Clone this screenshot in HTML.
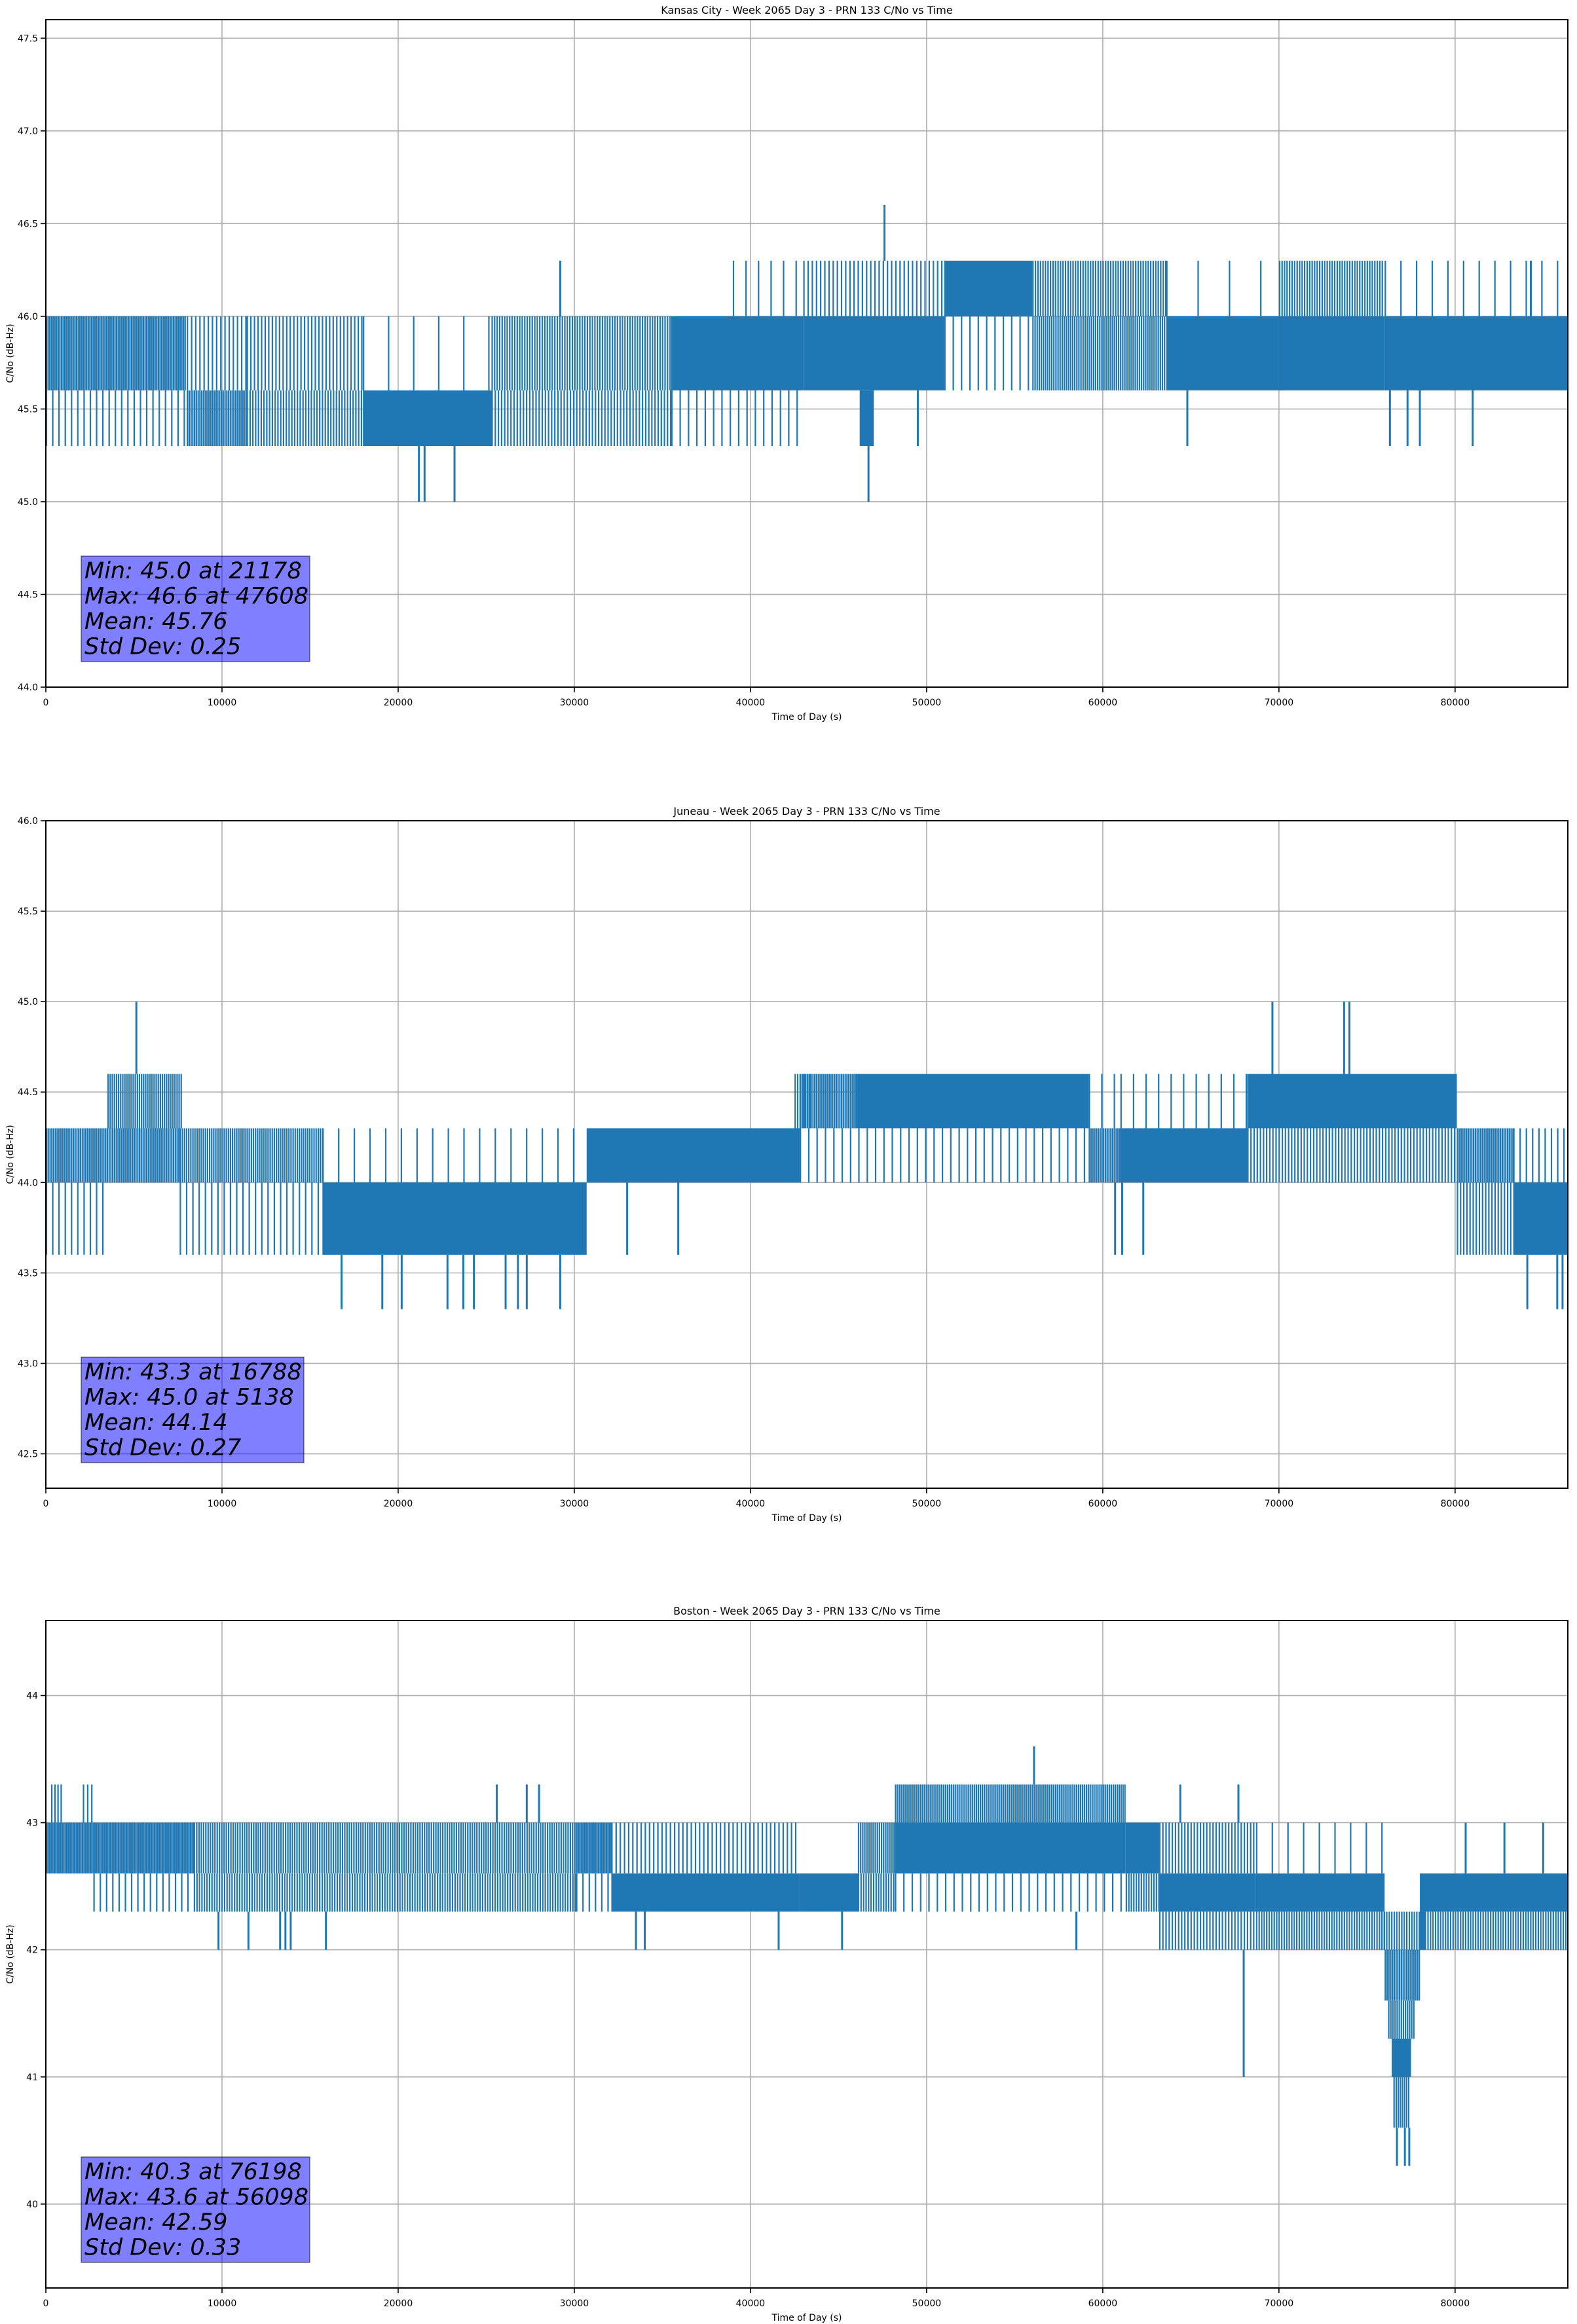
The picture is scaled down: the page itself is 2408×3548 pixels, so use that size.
<!DOCTYPE html>
<html><head><meta charset="utf-8"><title>C/No vs Time</title>
<style>
html,body{margin:0;padding:0;background:#fff;}
svg{display:block;font-family:"DejaVu Sans","Liberation Sans",sans-serif;}
</style></head>
<body>
<svg id="fig" width="2408" height="3548" viewBox="0 0 2408 3548" xmlns="http://www.w3.org/2000/svg"></svg>
<script>
// ---- data ----
const xTicks = [0,10000,20000,30000,40000,50000,60000,70000,80000];
const titles = ["Kansas City - Week 2065 Day 3 - PRN 133 C/No vs Time","Juneau - Week 2065 Day 3 - PRN 133 C/No vs Time","Boston - Week 2065 Day 3 - PRN 133 C/No vs Time"];
const yTicks1 = [44.0,44.5,45.0,45.5,46.0,46.5,47.0,47.5];
const yTicks2 = [42.5,43.0,43.5,44.0,44.5,45.0,45.5,46.0];
const yTicks3 = [40,41,42,43,44];
const yDomain1 = [44.0,47.6];
const yDomain2 = [42.31,46.0];
const yDomain3 = [39.34,44.59];
// blocks: [tStart, tEnd, low, high, density]
const blocks1 = [
[0,8000,45.6,46.0,0.75],[0,8000,45.3,45.6,0.2],
[8000,11400,45.6,46.0,0.3],[8000,11400,45.3,45.6,0.7],
[11400,18000,45.6,46.0,0.35],[11400,18000,45.3,45.6,0.45],
[18000,25300,45.3,45.6,1.0],[18000,25300,45.6,46.0,0.05],
[25300,35500,45.6,46.0,0.5],[25300,35500,45.3,45.6,0.4],
[35500,43000,45.6,46.0,0.9],[35500,43000,45.3,45.6,0.15],[39000,43000,46.0,46.3,0.1],
[43000,51000,45.6,46.0,0.85],[43000,51000,46.0,46.3,0.3],[46200,47000,45.3,45.6,0.9],
[51000,56000,46.0,46.3,0.85],[51000,56000,45.6,46.0,0.15],
[56000,63600,46.0,46.3,0.5],[56000,63600,45.6,46.0,0.6],
[63600,70000,45.6,46.0,0.95],[63600,70000,46.0,46.3,0.04],
[70000,76000,45.6,46.0,0.9],[70000,76000,46.0,46.3,0.5],
[76000,86400,45.6,46.0,0.95],[76000,86400,46.0,46.3,0.08]
];
// spikes: [t, from, to]
const spikes1 = [[21178,45.3,45.0],[21500,45.3,45.0],[23200,45.3,45.0],[46700,45.3,45.0],[47608,46.3,46.6],[29200,46.0,46.3],[64800,45.6,45.3],[76300,45.6,45.3],[77300,45.6,45.3],[78000,45.6,45.3],[81000,45.6,45.3],[84300,46.0,46.3],[49500,45.6,45.3]];
const blocks2 = [
[0,7600,44.0,44.3,0.7],[3500,7750,44.3,44.6,0.6],[0,3400,43.6,44.0,0.2],
[7600,15700,44.0,44.3,0.6],[7600,15700,43.6,44.0,0.2],
[15700,30700,43.6,44.0,0.95],[15700,30700,44.0,44.3,0.08],
[30700,42800,44.0,44.3,0.85],[42500,43500,44.3,44.6,0.5],
[42800,46000,44.3,44.6,0.7],[46000,59200,44.3,44.6,0.9],[42800,59200,44.0,44.3,0.15],
[59200,61000,44.0,44.3,0.7],[59200,61000,44.3,44.6,0.1],
[61000,68200,44.0,44.3,0.9],[61000,68200,44.3,44.6,0.1],
[68200,80100,44.3,44.6,0.85],[68200,80100,44.0,44.3,0.4],
[80100,83300,44.0,44.3,0.7],[80100,83300,43.6,44.0,0.4],
[83300,86400,43.6,44.0,0.95],[83300,86400,44.0,44.3,0.2]
];
const spikes2 = [[5138,44.6,45.0],[69630,44.6,45.0],[73700,44.6,45.0],[74000,44.6,45.0],[16788,43.6,43.3],[19100,43.6,43.3],[20200,43.6,43.3],[22800,43.6,43.3],[23700,43.6,43.3],[24300,43.6,43.3],[26100,43.6,43.3],[26800,43.6,43.3],[27300,43.6,43.3],[29200,43.6,43.3],[84100,43.6,43.3],[85800,43.6,43.3],[86100,43.6,43.3],[60700,44.0,43.6],[61100,44.0,43.6],[62300,44.0,43.6],[33000,44.0,43.6],[35900,44.0,43.6]];
const blocks3 = [
[0,8400,42.6,43.0,0.8],[300,900,43.0,43.3,0.4],[2100,2700,43.0,43.3,0.3],[2700,8400,42.3,42.6,0.2],
[8400,30100,42.6,43.0,0.55],[8400,30100,42.3,42.6,0.5],
[30100,32100,42.6,43.0,0.8],[30100,32100,42.3,42.6,0.2],
[32100,42800,42.3,42.6,0.85],[32100,42800,42.6,43.0,0.3],
[42800,46100,42.3,42.6,0.95],
[46100,48200,42.6,43.0,0.6],[46100,48200,42.3,42.6,0.5],
[48200,61300,42.6,43.0,0.9],[48200,61300,43.0,43.3,0.65],[48200,61300,42.3,42.6,0.15],
[61300,63200,42.6,43.0,0.9],[61300,63200,42.3,42.6,0.5],
[63200,68700,42.6,43.0,0.4],[63200,68700,42.3,42.6,0.85],[63200,68700,42.0,42.3,0.4],
[68700,76000,42.3,42.6,0.95],[68700,76000,42.0,42.3,0.5],[68700,76000,42.6,43.0,0.08],
[75800,78300,42.0,42.3,0.5],
[76000,78000,41.6,42.0,0.7],[76200,77700,41.3,41.6,0.6],[76400,77500,41.0,41.3,0.9],[76500,77400,40.6,41.0,0.6],
[78000,86400,42.3,42.6,0.85],[78000,86400,42.0,42.3,0.5]
];
const spikes3 = [[9800,42.3,42.0],[11500,42.3,42.0],[13300,42.3,42.0],[13600,42.3,42.0],[13900,42.3,42.0],[15900,42.3,42.0],[25600,43.0,43.3],[27300,43.0,43.3],[28000,43.0,43.3],[33500,42.3,42.0],[34000,42.3,42.0],[41600,42.3,42.0],[45200,42.3,42.0],[56098,43.3,43.6],[58500,42.3,42.0],[64400,43.0,43.3],[67700,43.0,43.3],[68000,42.0,41.0],[76700,40.6,40.3],[77150,40.6,40.3],[77400,40.6,40.3],[80600,42.6,43.0],[82800,42.6,43.0],[85000,42.6,43.0]];
const stats1 = ["Min: 45.0 at 21178","Max: 46.6 at 47608","Mean: 45.76","Std Dev: 0.25"];
const stats2 = ["Min: 43.3 at 16788","Max: 45.0 at 5138","Mean: 44.14","Std Dev: 0.27"];
const stats3 = ["Min: 40.3 at 76198","Max: 43.6 at 56098","Mean: 42.59","Std Dev: 0.33"];
const xMax = 86400;

// ---- drawing ----
const NS = "http://www.w3.org/2000/svg";
const fig = document.getElementById('fig');
function mk(tag, attrs, parent){ const e=document.createElementNS(NS,tag); for(const k in attrs) e.setAttribute(k,attrs[k]); (parent||fig).appendChild(e); return e; }
const L=70, R=2394, W=R-L, H=1019;
const panels = [
 {top:30, yTicks:yTicks1, dom:yDomain1, blocks:blocks1, spikes:spikes1, stats:stats1, fmt:v=>v.toFixed(1), boxW:349},
 {top:1253, yTicks:yTicks2, dom:yDomain2, blocks:blocks2, spikes:spikes2, stats:stats2, fmt:v=>v.toFixed(1), boxW:340},
 {top:2474, yTicks:yTicks3, dom:yDomain3, blocks:blocks3, spikes:spikes3, stats:stats3, fmt:v=>String(v), boxW:349}
];
panels.forEach((p,i)=>{
  const T=p.top, B=T+H;
  const xs=t=>L+t/xMax*W;
  const ys=v=>B-(v-p.dom[0])/(p.dom[1]-p.dom[0])*H;
  const g=mk('g',{});
  
  
  xTicks.forEach(t=>{ const l=mk('line',{x1:xs(t),x2:xs(t),y1:T,y2:B,stroke:'#b0b0b0','stroke-width':1.6},g);   });
  p.yTicks.forEach(v=>{ const l=mk('line',{x1:L,x2:R,y1:ys(v),y2:ys(v),stroke:'#b0b0b0','stroke-width':1.6},g);   });
  // data blocks drawn as vertical line stripes
  p.blocks.forEach(b=>{
    const x0=xs(b[0]), x1=xs(b[1]), yTop=ys(b[3]), yBot=ys(b[2]);
    const d=Math.min(1,b[4]*1.15);
    let path;
    if(d>=0.97){
      const r=mk('rect',{x:x0,y:yTop,width:Math.max(1,x1-x0),height:yBot-yTop,fill:'#1f77b4'},g);
      
      
      return;
    }
    const step=2.2/Math.max(d,0.02);
    let s='';
    for(let x=x0+1; x<x1; x+=step){ s+=`M${x.toFixed(1)} ${yTop.toFixed(1)}V${yBot.toFixed(1)}`; }
    if(!s) s=`M${((x0+x1)/2).toFixed(1)} ${yTop.toFixed(1)}V${yBot.toFixed(1)}`;
    path=mk('path',{d:s,stroke:'#1f77b4','stroke-width':2.2,fill:'none'},g);
    
    
  });
  p.spikes.forEach(s=>{
    const l=mk('line',{x1:xs(s[0]),x2:xs(s[0]),y1:ys(s[1]),y2:ys(s[2]),stroke:'#1f77b4','stroke-width':3},g);
    
    
  });
  const fr=mk('rect',{x:L,y:T,width:W,height:H,fill:'none',stroke:'#000','stroke-width':2},g);
  
  
  xTicks.forEach(t=>{
    mk('line',{x1:xs(t),x2:xs(t),y1:B,y2:B+8,stroke:'#000','stroke-width':1.6},g);
    const tx=mk('text',{x:xs(t),y:B+28,'font-size':14,'text-anchor':'middle',fill:'#000'},g);
    tx.textContent=t;
    
    
  });
  p.yTicks.forEach(v=>{
    mk('line',{x1:L-8,x2:L,y1:ys(v),y2:ys(v),stroke:'#000','stroke-width':1.6},g);
    const tx=mk('text',{x:L-12,y:ys(v)+5,'font-size':14,'text-anchor':'end',fill:'#000'},g);
    tx.textContent=p.fmt(v);
    
    
  });
  const ti=mk('text',{x:(L+R)/2,y:T-9,'font-size':16,'text-anchor':'middle',fill:'#000'},g);
  ti.textContent=titles[i];
  
  
  const xl=mk('text',{x:(L+R)/2,y:B+50,'font-size':14,'text-anchor':'middle',fill:'#000'},g);
  xl.textContent='Time of Day (s)';
  
  
  const yl=mk('text',{x:0,y:0,'font-size':14,'text-anchor':'middle',fill:'#000',transform:`translate(20,${(T+B)/2}) rotate(-90)`},g);
  yl.textContent='C/No (dB-Hz)';
  
  
  const bx=124, by=B-200, bh=161;
  const rb=mk('rect',{x:bx,y:by,width:p.boxW,height:bh,fill:'#0000ff','fill-opacity':0.5,stroke:'#000','stroke-opacity':0.5,'stroke-width':1.5},g);
  
  
  p.stats.forEach((s,k)=>{
    const st=mk('text',{x:bx+5,y:by+34+k*38.5,'font-size':35,'font-style':'italic',fill:'#000'},g);
    st.textContent=s;
    
    
  });
});
</script>
</body></html>
